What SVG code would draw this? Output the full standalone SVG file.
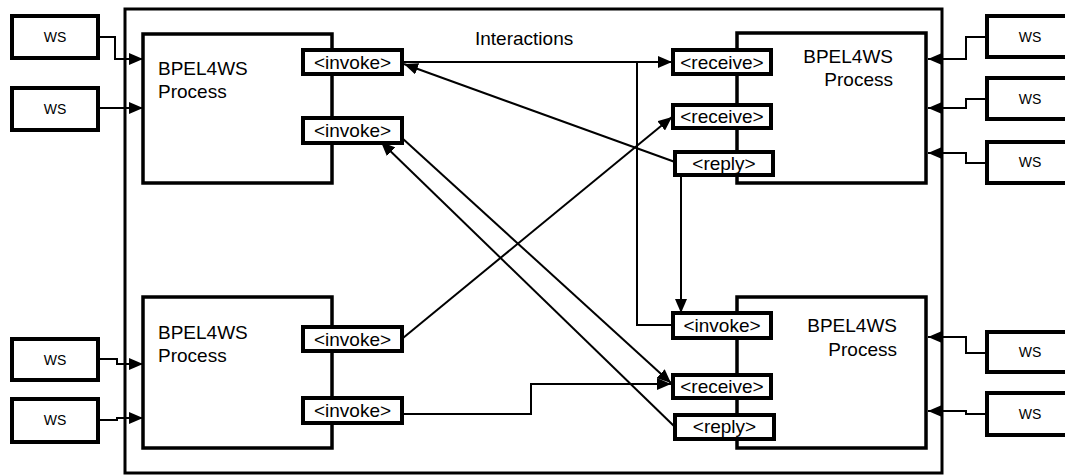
<svg xmlns="http://www.w3.org/2000/svg" width="1065" height="476" viewBox="0 0 1065 476">
<style>
.frame{fill:none;stroke:#000;stroke-width:3}
.proc{fill:#fff;stroke:#000;stroke-width:3.5}
.port{fill:#fff;stroke:#000;stroke-width:4}
.ws{fill:#fff;stroke:#000;stroke-width:4}
.t{font-family:"Liberation Sans",Arial,sans-serif;font-size:19px;fill:#000}
.pt{font-family:"Liberation Sans",Arial,sans-serif;font-size:19px;fill:#000;text-anchor:middle}
.wt{font-family:"Liberation Sans",Arial,sans-serif;font-size:14px;fill:#000;text-anchor:middle}
.c{fill:none;stroke:#000;stroke-width:2;marker-end:url(#ah)}
.cn{fill:none;stroke:#000;stroke-width:2}
</style>
<defs>
<marker id="ah" markerUnits="userSpaceOnUse" markerWidth="14" markerHeight="12" refX="14" refY="6" orient="auto">
<path d="M0,0 L14,6 L0,12 z" fill="#000"/>
</marker>
</defs>
<rect width="1065" height="476" fill="#fff"/>
<g id="container"><rect class="frame" x="125" y="9" width="817" height="464"/></g>
<text class="t" x="475" y="45">Interactions</text>

<g id="procTL"><rect class="proc" x="143" y="34" width="189" height="149"/><text class="t" x="158" y="75">BPEL4WS</text><text class="t" x="158" y="98">Process</text></g>
<g id="procBL"><rect class="proc" x="143" y="297" width="189" height="151"/><text class="t" x="158" y="339">BPEL4WS</text><text class="t" x="158" y="362">Process</text></g>
<g id="procTR"><rect class="proc" x="737" y="33" width="189" height="150"/><text class="t" x="893" y="63" text-anchor="end">BPEL4WS</text><text class="t" x="893" y="86" text-anchor="end">Process</text></g>
<g id="procBR"><rect class="proc" x="737" y="297" width="189" height="151"/><text class="t" x="897" y="332" text-anchor="end">BPEL4WS</text><text class="t" x="897" y="356" text-anchor="end">Process</text></g>

<g id="tl-invoke1"><rect class="port" x="303" y="50" width="99" height="24"/><text class="pt" x="352.5" y="68.5">&lt;invoke&gt;</text></g>
<g id="tl-invoke2"><rect class="port" x="303" y="118" width="99" height="25"/><text class="pt" x="352.5" y="137">&lt;invoke&gt;</text></g>
<g id="bl-invoke1"><rect class="port" x="303" y="327" width="99" height="24"/><text class="pt" x="352.5" y="345.5">&lt;invoke&gt;</text></g>
<g id="bl-invoke2"><rect class="port" x="303" y="398" width="99" height="25"/><text class="pt" x="352.5" y="417">&lt;invoke&gt;</text></g>
<g id="tr-receive1"><rect class="port" x="673" y="50" width="98" height="24"/><text class="pt" x="722" y="68.5">&lt;receive&gt;</text></g>
<g id="tr-receive2"><rect class="port" x="673" y="105" width="98" height="23"/><text class="pt" x="722" y="123">&lt;receive&gt;</text></g>
<g id="tr-reply"><rect class="port" x="675" y="152" width="98" height="23"/><text class="pt" x="724" y="170">&lt;reply&gt;</text></g>
<g id="br-invoke"><rect class="port" x="673" y="313" width="98" height="25"/><text class="pt" x="722" y="332">&lt;invoke&gt;</text></g>
<g id="br-receive"><rect class="port" x="673" y="375" width="98" height="23"/><text class="pt" x="722" y="393">&lt;receive&gt;</text></g>
<g id="br-reply"><rect class="port" x="675" y="415" width="99" height="24"/><text class="pt" x="724.5" y="433">&lt;reply&gt;</text></g>

<g id="ws-l1"><rect class="ws" x="12" y="16" width="86" height="42"/><text class="wt" x="55" y="42">WS</text></g>
<g id="ws-l2"><rect class="ws" x="12" y="88" width="86" height="42"/><text class="wt" x="55" y="114">WS</text></g>
<g id="ws-l3"><rect class="ws" x="12" y="339" width="86" height="41"/><text class="wt" x="55" y="365">WS</text></g>
<g id="ws-l4"><rect class="ws" x="12" y="399" width="86" height="43"/><text class="wt" x="55" y="425">WS</text></g>
<g id="ws-r1"><rect class="ws" x="987" y="16" width="86" height="41"/><text class="wt" x="1030" y="42">WS</text></g>
<g id="ws-r2"><rect class="ws" x="987" y="78" width="86" height="41"/><text class="wt" x="1030" y="104">WS</text></g>
<g id="ws-r3"><rect class="ws" x="987" y="142" width="86" height="41"/><text class="wt" x="1030" y="167">WS</text></g>
<g id="ws-r4"><rect class="ws" x="987" y="332" width="86" height="40"/><text class="wt" x="1030" y="357">WS</text></g>
<g id="ws-r5"><rect class="ws" x="987" y="393" width="86" height="42"/><text class="wt" x="1030" y="419">WS</text></g>

<g id="connectors">
<path class="c" d="M98,37 H115 V59 H143"/>
<path class="c" d="M98,108 H143"/>
<path class="c" d="M98,359 H117 V364 H143"/>
<path class="c" d="M98,420 H117 V418 H143"/>
<path class="c" d="M987,37 H966 V59 H928"/>
<path class="c" d="M987,99 H966 V108 H928"/>
<path class="c" d="M987,163 H966 V153 H928"/>
<path class="c" d="M987,353 H966 V337 H928"/>
<path class="c" d="M987,414 H966 V411 H928"/>
<path class="c" d="M402,62 H672"/>
<path class="cn" d="M673,325 H637 V62"/>
<path class="c" d="M675,162 L404,64"/>
<path class="c" d="M403,338 L672,117"/>
<path class="c" d="M681,175 V313"/>
<path class="c" d="M402,138 L671,383"/>
<path class="c" d="M675,427 L381,142"/>
<path class="c" d="M402,414 H531 V384 H671"/>
</g>
</svg>
